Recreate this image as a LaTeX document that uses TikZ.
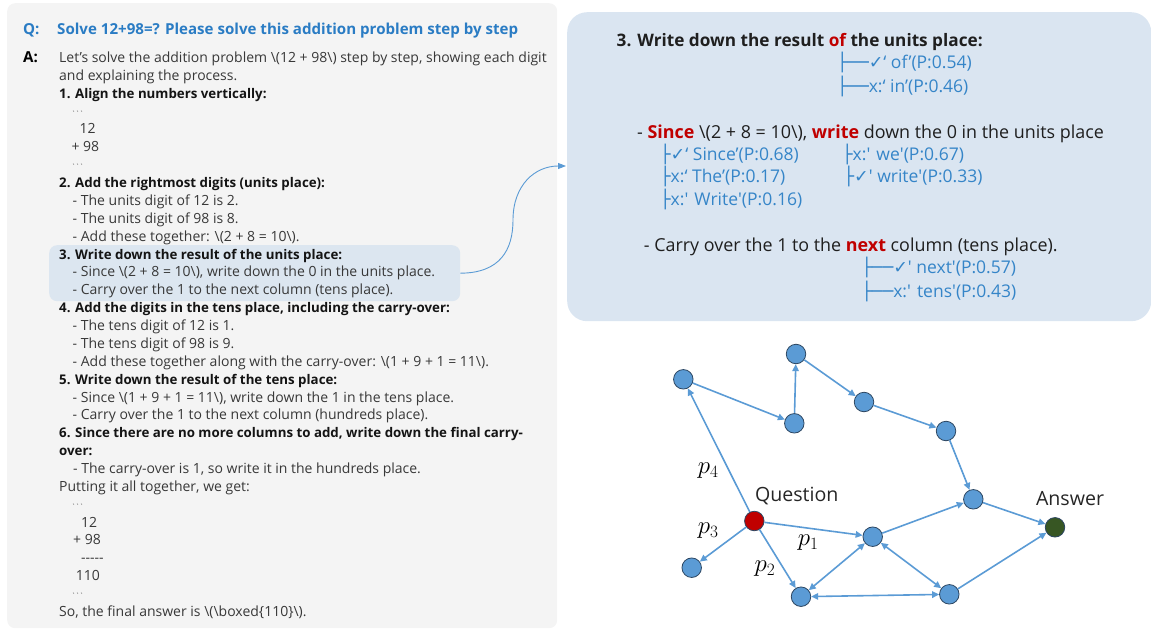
\documentclass[tikz,border=0pt]{standalone}
\usepackage{fontspec}
\setmainfont{Open Sans}
\newfontfamily\symfont{DejaVu Sans}
\usetikzlibrary{arrows.meta}
\definecolor{qblue}{HTML}{2A7CC4}
\definecolor{pblue}{HTML}{3585C8}
\definecolor{ered}{HTML}{C00000}
\definecolor{edgec}{HTML}{5B9BD5}
\definecolor{nodeb}{HTML}{5B9BD5}
\definecolor{nodeline}{HTML}{2C4661}
\definecolor{ansgreen}{HTML}{375623}
\definecolor{leftbg}{HTML}{F4F4F4}
\definecolor{rightbg}{HTML}{DAE5F1}
\definecolor{hlbg}{HTML}{DCE6F0}
\newcommand\bs{\textbackslash}
\newcommand\ticks{{\fontsize{7}{7}\selectfont\textasciigrave\textasciigrave\textasciigrave}}
\begin{document}
\begin{tikzpicture}[x=1pt,y=-1pt,
  lt/.style={anchor=base west, inner sep=0pt, font=\fontsize{14}{16}\selectfont, text=black!78},
  ltb/.style={anchor=base west, inner sep=0pt, font=\fontsize{13.3}{15}\selectfont\bfseries, text=black!92},
  qa/.style={anchor=base west, inner sep=0pt, font=\fontsize{15.1}{17}\selectfont\bfseries},
  rt/.style={anchor=base west, inner sep=0pt, font=\fontsize{17.9}{20}\selectfont, text=black!88},
  rtb/.style={anchor=base west, inner sep=0pt, font=\fontsize{17.2}{20}\selectfont\bfseries, text=black!88},
  pt/.style={anchor=base west, inner sep=0pt, font=\fontsize{17.5}{20}\selectfont, text=pblue},
  gnode/.style={circle, draw=nodeline, line width=0.8pt, fill=nodeb, minimum size=19.5pt, inner sep=0pt},
  garrow/.style={draw=edgec, line width=1.6pt, -{Triangle[length=7pt,width=6.5pt]}},
  gboth/.style={draw=edgec, line width=1.6pt, {Triangle[length=7pt,width=6.5pt]}-{Triangle[length=7pt,width=6.5pt]}},
  plab/.style={font=\fontsize{23}{25}\selectfont},
  glab/.style={font=\fontsize{19.6}{22}\selectfont, text=black!85}
]
\useasboundingbox (0,0) rectangle (1151,629);
% panels
\node[fill=leftbg, rounded corners=8pt, minimum width=550pt, minimum height=625pt, anchor=north west, inner sep=0pt] (lp) at (7,3) {};
\node[fill=rightbg, rounded corners=20pt, minimum width=584pt, minimum height=309pt, anchor=north west, inner sep=0pt] (rp) at (567,12) {};
\node[fill=hlbg, rounded corners=8pt, minimum width=411pt, minimum height=56pt, anchor=north west, inner sep=0pt] (hl) at (49,245) {};
\coordinate (rpin) at (566,166);
\draw[draw=edgec, line width=0.9pt, -{Triangle[length=8pt,width=6pt]}] (hl.east) .. controls (500,273) and (513,250) .. (513,220) .. controls (513,185) and (535,166) .. (rpin);

% left text
\node[qa, text=qblue] (qm) at (23,34) {Q:};
\node[qa, text=qblue] (qt) at (57,34) {Solve 12+98=? Please solve this addition problem step by step};
\node[qa, text=black] (am) at (23,62.5) {A:};
\node[lt] (l0) at (59,62.5) {Let's solve the addition problem \bs(12 + 98\bs) step by step, showing each digit};
\node[lt] (l1) at (59,80.37) {and explaining the process.};
\node[ltb] (l2) at (59,98.24) {1. Align the numbers vertically:};
\node[lt] (l3) at (71.4,116.11) {\ticks};
\node[lt] (l4) at (79.3,133.98) {12};
\node[lt] (l5) at (71.4,151.85) {+ 98};
\node[lt] (l6) at (71.4,169.72) {\ticks};
\node[ltb] (l7) at (59,187.59) {2. Add the rightmost digits (units place):};
\node[lt] (l8) at (72.5,205.46) {- The units digit of 12 is 2.};
\node[lt] (l9) at (72.5,223.33) {- The units digit of 98 is 8.};
\node[lt] (l10) at (72.5,241.2) {- Add these together: \bs(2 + 8 = 10\bs).};
\node[ltb] (l11) at (59,259.07) {3. Write down the result of the units place:};
\node[lt] (l12) at (72.5,276.94) {- Since \bs(2 + 8 = 10\bs), write down the 0 in the units place.};
\node[lt] (l13) at (72.5,294.81) {- Carry over the 1 to the next column (tens place).};
\node[ltb] (l14) at (59,312.68) {4. Add the digits in the tens place, including the carry-over:};
\node[lt] (l15) at (72.5,330.55) {- The tens digit of 12 is 1.};
\node[lt] (l16) at (72.5,348.42) {- The tens digit of 98 is 9.};
\node[lt] (l17) at (72.5,366.29) {- Add these together along with the carry-over: \bs(1 + 9 + 1 = 11\bs).};
\node[ltb] (l18) at (59,384.16) {5. Write down the result of the tens place:};
\node[lt] (l19) at (72.5,402.03) {- Since \bs(1 + 9 + 1 = 11\bs), write down the 1 in the tens place.};
\node[lt] (l20) at (72.5,419.9) {- Carry over the 1 to the next column (hundreds place).};
\node[ltb] (l21) at (59,437.77) {6. Since there are no more columns to add, write down the final carry-};
\node[ltb] (l22) at (59,455.64) {over:};
\node[lt] (l23) at (73,473.51) {- The carry-over is 1, so write it in the hundreds place.};
\node[lt] (l24) at (59,491.38) {Putting it all together, we get:};
\node[lt] (l25) at (71.4,509.25) {\ticks};
\node[lt] (l26) at (81,527.12) {12};
\node[lt] (l27) at (73,544.99) {+ 98};
\node[lt] (l28) at (81,562.86) {{-}{-}{-}{-}{-}};
\node[lt] (l29) at (75.7,580.73) {110};
\node[lt] (l30) at (71.4,598.6) {\ticks};
\node[lt] (l31) at (59,616.47) {So, the final answer is \bs(\bs boxed\{110\}\bs).};

% right panel text
\node[rtb] (r1) at (616.5,46) {3. Write down the result \textcolor{ered}{of} the units place:};
\node[pt] (r2) at (837,68.5) {{\symfont ├──✓}‘ of’(P:0.54)};
\node[pt] (r3) at (837,92) {{\symfont ├──}x:‘ in’(P:0.46)};
\node[rt] (r4) at (637,138) {- \textbf{\textcolor{ered}{Since}} \bs(2 + 8 = 10\bs), \textbf{\textcolor{ered}{write}} down the 0 in the units place};
\node[pt] (r5) at (660,160) {{\symfont ├✓}‘ Since’(P:0.68)};
\node[pt] (r6) at (842,160) {{\symfont ├}x:\textquotesingle{} we\textquotesingle(P:0.67)};
\node[pt] (r7) at (660,182.5) {{\symfont ├}x:‘ The’(P:0.17)};
\node[pt] (r8) at (843.5,182.5) {{\symfont ├✓}\textquotesingle{} write\textquotesingle(P:0.33)};
\node[pt] (r9) at (660,205) {{\symfont ├}x:\textquotesingle{} Write\textquotesingle(P:0.16)};
\node[rt] (r10) at (643.7,251) {- Carry over the 1 to the \textbf{\textcolor{ered}{next}} column (tens place).};
\node[pt] (r11) at (861.5,273.5) {{\symfont ├──✓}\textquotesingle{} next\textquotesingle(P:0.57)};
\node[pt] (r12) at (861.5,297) {{\symfont ├──}x:\textquotesingle{} tens\textquotesingle(P:0.43)};

% graph
\node[gnode] (n1) at (683.3,379.3) {};
\node[gnode] (n2) at (796,354) {};
\node[gnode] (n3) at (794.3,423.3) {};
\node[gnode] (n4) at (864,402) {};
\node[gnode] (n5) at (946,431) {};
\node[gnode] (n6) at (973.3,499.3) {};
\node[gnode, fill=ansgreen] (ans) at (1055,527.3) {};
\node[gnode, fill=ered] (q) at (754.3,521) {};
\node[gnode] (n7) at (691.7,567.7) {};
\node[gnode] (n8) at (872.7,536.7) {};
\node[gnode] (n9) at (801,596.7) {};
\node[gnode] (n10) at (949.3,594.3) {};

\draw[garrow] (q) -- (n1);
\draw[garrow] (n1) -- (n3);
\draw[garrow] (n3) -- (n2);
\draw[garrow] (n2) -- (n4);
\draw[garrow] (n4) -- (n5);
\draw[garrow] (n5) -- (n6);
\draw[garrow] (n6) -- (ans);
\draw[garrow] (q) -- (n8);
\draw[garrow] (q) -- (n9);
\draw[garrow] (q) -- (n7);
\draw[garrow] (n8) -- (n6);
\draw[gboth] (n9) -- (n8);
\draw[gboth] (n8) -- (n10);
\draw[gboth] (n9) -- (n10);
\draw[garrow] (n10) -- (ans);

\node[glab] (qlab) at (796.7,495.7) {Question};
\node[glab] (alab) at (1070,499) {Answer};
\node[plab] (p4) at (708.3,470.5) {$p_4$};
\node[plab] (p3) at (708.3,530.5) {$p_3$};
\node[plab] (p1) at (808.3,542.5) {$p_1$};
\node[plab] (p2) at (765,569) {$p_2$};
\end{tikzpicture}
\end{document}
